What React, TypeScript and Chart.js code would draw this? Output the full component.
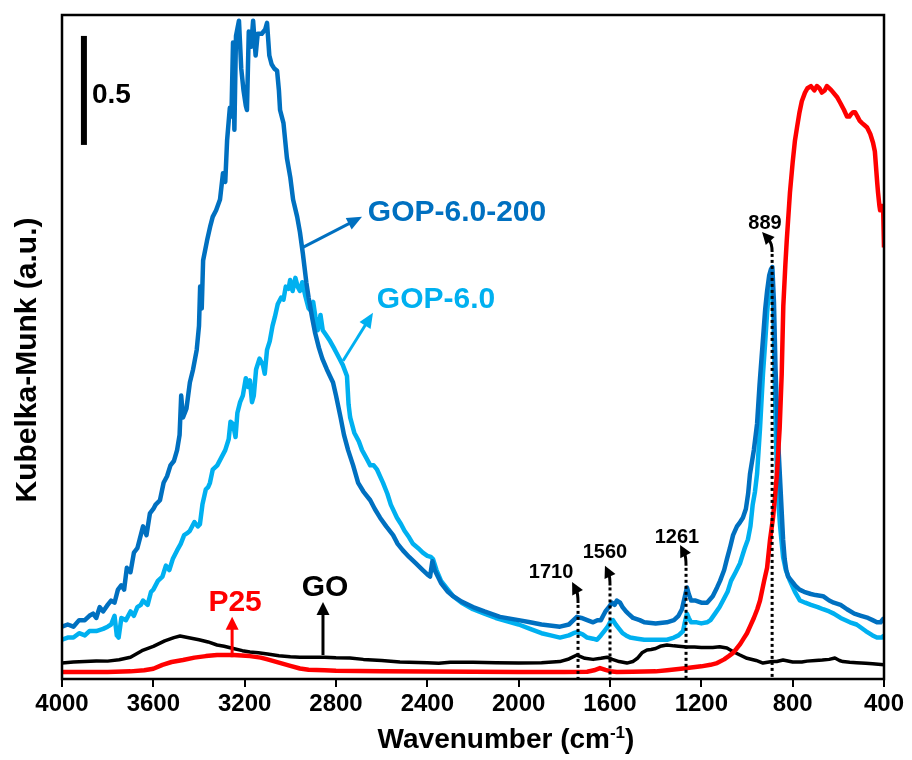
import React, { useEffect, useRef } from "react";
import { Chart, registerables } from "chart.js";
Chart.register(...registerables);

const FONT = "'Liberation Sans', Arial, Helvetica, sans-serif";

// x axis (wavenumber, reversed)
const X_MIN = 400;
const X_MAX = 4000;
const X_STEP = 400;
// y axis (Kubelka-Munk, arbitrary units)
const Y_MIN = 0;
const Y_MAX = 3.046;

const X_TITLE = "Wavenumber (cm";
const X_TITLE_SUP = "-1";
const Y_TITLE = "Kubelka-Munk (a.u.)";

// [wavenumber, K-M value]
const GOP_200: [number, number][] = [
  [4000,0.24],[3975,0.25],[3950,0.24],[3925,0.27],[3900,0.27],[3880,0.29],[3864,0.30],[3850,0.28],[3835,0.33],[3820,0.31],
  [3800,0.34],[3785,0.36],[3770,0.35],[3755,0.41],[3740,0.43],[3728,0.41],[3716,0.51],[3700,0.49],[3685,0.58],[3670,0.60],
  [3660,0.64],[3645,0.70],[3630,0.66],[3615,0.76],[3600,0.78],[3590,0.80],[3571,0.82],[3555,0.90],[3540,0.93],[3525,0.98],
  [3510,1.00],[3496,1.05],[3485,1.12],[3478,1.30],[3470,1.20],[3455,1.24],[3440,1.36],[3426,1.42],[3410,1.51],[3400,1.62],
  [3395,1.80],[3388,1.70],[3382,1.92],[3365,2.01],[3350,2.08],[3340,2.12],[3325,2.15],[3308,2.20],[3295,2.32],[3285,2.28],
  [3277,2.47],[3265,2.62],[3258,2.58],[3251,2.92],[3245,2.52],[3238,2.95],[3225,3.02],[3215,2.80],[3205,2.70],[3195,2.63],
  [3190,2.61],[3182,2.97],[3172,2.90],[3163,3.02],[3152,2.86],[3143,2.96],[3125,2.96],[3110,2.98],[3102,3.01],[3092,2.86],
  [3082,2.82],[3070,2.80],[3058,2.79],[3050,2.70],[3045,2.61],[3030,2.55],[3015,2.39],[3000,2.30],[2988,2.20],[2970,2.12],
  [2958,2.05],[2945,1.95],[2930,1.82],[2920,1.75],[2905,1.66],[2892,1.59],[2875,1.52],[2860,1.47],[2840,1.42],[2813,1.36],
  [2800,1.30],[2780,1.20],[2765,1.12],[2747,1.05],[2725,0.98],[2703,0.90],[2680,0.86],[2650,0.82],[2630,0.78],[2607,0.74],
  [2580,0.70],[2550,0.66],[2530,0.62],[2507,0.59],[2480,0.56],[2450,0.53],[2420,0.50],[2400,0.48],[2388,0.47],[2378,0.54],
  [2368,0.50],[2340,0.44],[2310,0.40],[2287,0.38],[2250,0.355],[2200,0.33],[2150,0.31],[2082,0.285],[2000,0.27],[1950,0.26],
  [1900,0.25],[1819,0.24],[1780,0.25],[1760,0.27],[1745,0.285],[1725,0.28],[1700,0.27],[1674,0.26],[1655,0.27],[1640,0.27],
  [1630,0.29],[1620,0.31],[1605,0.33],[1591,0.35],[1580,0.34],[1570,0.36],[1556,0.35],[1545,0.33],[1530,0.31],[1520,0.30],
  [1499,0.28],[1470,0.27],[1450,0.26],[1400,0.255],[1351,0.26],[1320,0.27],[1300,0.29],[1285,0.32],[1272,0.38],[1263,0.42],
  [1255,0.39],[1245,0.36],[1225,0.36],[1200,0.35],[1175,0.35],[1150,0.38],[1131,0.42],[1118,0.45],[1100,0.50],[1088,0.55],
  [1075,0.60],[1061,0.66],[1044,0.70],[1030,0.72],[1018,0.74],[1005,0.78],[995,0.85],[987,0.94],[970,1.05],[956,1.17],
  [945,1.35],[930,1.56],[920,1.70],[912,1.78],[903,1.85],[895,1.88],[889,1.89],[882,1.73],[875,1.42],[864,1.10],
  [852,0.85],[842,0.64],[835,0.55],[828,0.50],[820,0.47],[805,0.45],[790,0.43],[770,0.41],[750,0.40],[720,0.39],
  [700,0.385],[667,0.38],[640,0.36],[620,0.35],[590,0.34],[562,0.32],[530,0.30],[500,0.29],[470,0.28],[450,0.27],
  [431,0.26],[415,0.26],[408,0.27],[400,0.28],
];

const GOP_60: [number, number][] = [
  [4000,0.18],[3975,0.19],[3950,0.19],[3925,0.21],[3900,0.20],[3880,0.22],[3850,0.22],[3820,0.23],[3800,0.24],[3785,0.25],
  [3770,0.29],[3760,0.20],[3752,0.19],[3740,0.28],[3720,0.27],[3700,0.31],[3685,0.29],[3670,0.33],[3655,0.34],[3645,0.36],
  [3625,0.34],[3610,0.40],[3600,0.41],[3580,0.45],[3560,0.47],[3545,0.52],[3530,0.50],[3515,0.55],[3496,0.59],[3480,0.62],
  [3465,0.66],[3450,0.67],[3440,0.68],[3420,0.72],[3405,0.70],[3396,0.71],[3385,0.80],[3370,0.87],[3360,0.88],[3352,0.90],
  [3340,0.96],[3320,0.98],[3300,1.02],[3285,1.05],[3270,1.10],[3262,1.18],[3251,1.17],[3240,1.11],[3232,1.22],[3220,1.27],
  [3208,1.30],[3195,1.38],[3185,1.34],[3177,1.37],[3168,1.27],[3160,1.30],[3150,1.42],[3135,1.47],[3120,1.44],[3112,1.40],
  [3102,1.51],[3090,1.55],[3078,1.62],[3068,1.66],[3055,1.72],[3040,1.75],[3030,1.74],[3020,1.80],[3008,1.79],[3001,1.83],
  [2990,1.78],[2978,1.84],[2968,1.80],[2958,1.78],[2948,1.82],[2935,1.76],[2920,1.70],[2910,1.69],[2900,1.73],[2890,1.66],
  [2880,1.60],[2868,1.67],[2858,1.60],[2845,1.58],[2826,1.55],[2810,1.52],[2800,1.50],[2785,1.47],[2770,1.44],[2752,1.39],
  [2745,1.26],[2738,1.20],[2720,1.13],[2700,1.09],[2686,1.05],[2665,1.01],[2650,0.98],[2635,0.98],[2620,0.96],[2594,0.90],
  [2575,0.85],[2560,0.80],[2533,0.74],[2515,0.71],[2500,0.68],[2480,0.65],[2463,0.62],[2440,0.60],[2420,0.58],[2400,0.565],
  [2385,0.56],[2375,0.55],[2360,0.50],[2340,0.45],[2310,0.41],[2287,0.38],[2250,0.35],[2200,0.32],[2150,0.30],[2100,0.28],
  [2050,0.265],[2000,0.25],[1950,0.23],[1900,0.21],[1860,0.20],[1819,0.19],[1780,0.20],[1760,0.21],[1745,0.215],[1720,0.205],
  [1700,0.19],[1675,0.185],[1657,0.18],[1640,0.20],[1625,0.22],[1610,0.24],[1600,0.26],[1587,0.27],[1575,0.25],[1560,0.23],
  [1545,0.21],[1530,0.20],[1512,0.19],[1480,0.185],[1450,0.18],[1400,0.18],[1350,0.18],[1320,0.19],[1300,0.20],[1280,0.22],
  [1272,0.26],[1263,0.30],[1255,0.28],[1245,0.26],[1220,0.26],[1200,0.255],[1175,0.26],[1160,0.27],[1140,0.30],[1120,0.33],
  [1105,0.36],[1085,0.40],[1070,0.45],[1050,0.49],[1031,0.53],[1010,0.60],[996,0.64],[985,0.70],[975,0.80],[965,0.86],
  [956,0.94],[943,1.15],[930,1.40],[920,1.55],[912,1.68],[905,1.77],[897,1.82],[891,1.80],[885,1.70],[880,1.45],
  [875,1.20],[869,0.94],[862,0.80],[855,0.70],[842,0.56],[830,0.50],[812,0.45],[790,0.40],[768,0.36],[745,0.35],
  [720,0.34],[690,0.33],[667,0.32],[640,0.31],[620,0.30],[590,0.28],[549,0.26],[520,0.25],[480,0.22],[450,0.20],
  [431,0.19],[410,0.19],[400,0.20],
];

const GO: [number, number][] = [
  [4000,0.073],[3950,0.078],[3900,0.08],[3850,0.083],[3800,0.082],[3750,0.088],[3700,0.10],[3650,0.13],[3600,0.15],[3550,0.175],
  [3510,0.19],[3483,0.197],[3450,0.19],[3400,0.18],[3360,0.17],[3321,0.156],[3290,0.15],[3250,0.14],[3210,0.13],[3177,0.124],
  [3140,0.12],[3100,0.115],[3050,0.107],[3000,0.102],[2958,0.10],[2900,0.10],[2850,0.10],[2800,0.097],[2739,0.096],[2680,0.09],
  [2600,0.085],[2520,0.078],[2400,0.074],[2350,0.072],[2300,0.077],[2200,0.077],[2100,0.075],[2000,0.073],[1900,0.075],[1820,0.08],
  [1780,0.092],[1745,0.11],[1710,0.095],[1674,0.09],[1640,0.095],[1613,0.10],[1590,0.09],[1560,0.08],[1526,0.073],[1500,0.08],
  [1480,0.095],[1460,0.12],[1438,0.133],[1420,0.135],[1400,0.14],[1380,0.15],[1351,0.156],[1320,0.152],[1300,0.15],[1263,0.147],
  [1230,0.147],[1200,0.145],[1150,0.145],[1120,0.148],[1088,0.142],[1060,0.125],[1031,0.11],[1000,0.095],[960,0.085],[930,0.073],
  [890,0.08],[870,0.08],[842,0.087],[800,0.078],[760,0.078],[737,0.082],[700,0.085],[670,0.087],[640,0.09],[615,0.096],
  [595,0.085],[580,0.08],[550,0.077],[520,0.075],[480,0.072],[450,0.07],[400,0.065],
];

const P25: [number, number][] = [
  [4000,0.032],[3900,0.032],[3800,0.032],[3700,0.035],[3640,0.04],[3600,0.047],[3560,0.065],[3520,0.078],[3470,0.087],[3420,0.098],
  [3370,0.105],[3321,0.11],[3250,0.11],[3177,0.105],[3130,0.098],[3100,0.09],[3050,0.075],[3000,0.06],[2958,0.048],[2920,0.042],
  [2850,0.04],[2800,0.038],[2600,0.035],[2400,0.034],[2200,0.033],[2000,0.032],[1800,0.032],[1700,0.033],[1670,0.04],[1644,0.05],
  [1620,0.042],[1600,0.036],[1570,0.032],[1500,0.033],[1400,0.035],[1350,0.04],[1280,0.048],[1200,0.058],[1160,0.065],[1131,0.073],
  [1100,0.09],[1080,0.105],[1061,0.12],[1045,0.14],[1030,0.16],[1015,0.185],[1000,0.21],[985,0.245],[970,0.28],[955,0.32],
  [943,0.36],[925,0.45],[912,0.51],[899,0.64],[886,0.74],[877,0.84],[869,0.94],[857,1.15],[848,1.40],[841,1.71],
  [832,1.90],[826,2.01],[812,2.23],[800,2.37],[790,2.47],[781,2.53],[770,2.60],[760,2.65],[746,2.69],[735,2.71],
  [720,2.72],[705,2.70],[694,2.72],[683,2.71],[672,2.69],[660,2.70],[650,2.72],[640,2.71],[630,2.70],[606,2.67],
  [590,2.64],[575,2.61],[562,2.58],[552,2.58],[545,2.59],[535,2.60],[527,2.60],[516,2.58],[506,2.56],[496,2.55],
  [485,2.54],[474,2.53],[460,2.50],[448,2.46],[440,2.42],[435,2.35],[430,2.28],[426,2.23],[420,2.17],[417,2.15],
  [414,2.17],[404,2.17],[401,2.17],[400,1.98],
];

const SERIES_NAMES = ["P25", "GOP-6.0-200", "GOP-6.0", "GO"];
const SERIES_COLORS = ["#FF0000", "#0070C0", "#00B0F0", "#000000"];
const SERIES_WIDTHS = [4.5, 4.5, 4.5, 3.5];
const SERIES_DATA = [P25, GOP_200, GOP_60, GO];

// scale bar (in data units)
const SCALE_BAR_WN = 3904;
const SCALE_BAR_FROM = 2.45;
const SCALE_BAR_TO = 2.95;
const SCALE_BAR_LABEL = "0.5";

// curve labels: text, color, text position (wn, value), arrow from (wn,value) to (wn,value)
const CURVE_LABEL_TEXT = ["GOP-6.0-200", "GOP-6.0", "P25", "GO"];
const CURVE_LABEL_COLOR = ["#0070C0", "#00B0F0", "#FF0000", "#000000"];
const CURVE_LABEL_POS: [number, number][] = [[2270, 2.14], [2362, 1.74], [3242, 0.35], [2848, 0.42]];
const CURVE_ARROW_FROM: [number, number][] = [[2945, 1.98], [2769, 1.46], [3255, 0.10], [2857, 0.11]];
const CURVE_ARROW_TO: [number, number][] = [[2686, 2.12], [2638, 1.68], [3255, 0.285], [2857, 0.353]];

// peak markers
const PEAK_LABELS = ["1710", "1560", "1261", "889"];
const PEAK_LINE_WN = [1740, 1600, 1267, 890];
const PEAK_LINE_TOP = [0.34, 0.42, 0.51, 1.95];
const PEAK_HEAD: [number, number][] = [[1766, 0.445], [1622, 0.52], [1293, 0.615], [934, 2.05]];
const PEAK_TEXT: [number, number][] = [[1858, 0.49], [1622, 0.58], [1307, 0.65], [921, 2.09]];

function drawHead(ctx: CanvasRenderingContext2D, tx: number, ty: number, fx: number, fy: number, len: number, w: number, color: string) {
  const ang = Math.atan2(ty - fy, tx - fx);
  ctx.save();
  ctx.translate(tx, ty);
  ctx.rotate(ang);
  ctx.beginPath();
  ctx.moveTo(0, 0);
  ctx.lineTo(-len, w / 2);
  ctx.lineTo(-len, -w / 2);
  ctx.closePath();
  ctx.fillStyle = color;
  ctx.fill();
  ctx.restore();
}

function straightArrow(ctx: CanvasRenderingContext2D, x1: number, y1: number, x2: number, y2: number, color: string, lw: number, len: number, w: number) {
  const d = Math.hypot(x2 - x1, y2 - y1);
  const ux = (x2 - x1) / d, uy = (y2 - y1) / d;
  ctx.beginPath();
  ctx.moveTo(x1, y1);
  ctx.lineTo(x2 - ux * len * 0.8, y2 - uy * len * 0.8);
  ctx.strokeStyle = color;
  ctx.lineWidth = lw;
  ctx.stroke();
  drawHead(ctx, x2, y2, x1, y1, len, w, color);
}

const annotPlugin = {
  id: "annot",
  afterDatasetsDraw(chart: any) {
    const { ctx, chartArea: a, scales } = chart;
    const X = (w: number) => scales.x.getPixelForValue(w);
    const Y = (v: number) => scales.y.getPixelForValue(v);
    ctx.save();

    // peak dotted lines and curved arrows
    ctx.setLineDash([3, 3]);
    ctx.strokeStyle = "#000";
    ctx.lineWidth = 3;
    PEAK_LINE_WN.forEach((wn, i) => {
      ctx.beginPath();
      ctx.moveTo(X(wn), Y(PEAK_LINE_TOP[i]));
      ctx.lineTo(X(wn), a.bottom);
      ctx.stroke();
    });
    ctx.setLineDash([]);
    PEAK_LABELS.forEach((lab, i) => {
      const sx = X(PEAK_LINE_WN[i]), sy = Y(PEAK_LINE_TOP[i]);
      const hx = X(PEAK_HEAD[i][0]), hy = Y(PEAK_HEAD[i][1]);
      const cx = sx, cy = (sy + hy) / 2;
      const d = Math.hypot(hx - cx, hy - cy);
      const ex = hx - (hx - cx) / d * 9, ey = hy - (hy - cy) / d * 9;
      ctx.beginPath();
      ctx.moveTo(sx, sy - 2);
      ctx.quadraticCurveTo(cx, cy, ex, ey);
      ctx.strokeStyle = "#000";
      ctx.lineWidth = 3;
      ctx.stroke();
      drawHead(ctx, hx, hy, cx, cy, 12, 12, "#000");
      ctx.font = `bold 20px ${FONT}`;
      ctx.fillStyle = "#000";
      ctx.textAlign = "center";
      ctx.textBaseline = "middle";
      ctx.fillText(lab, X(PEAK_TEXT[i][0]), Y(PEAK_TEXT[i][1]));
    });

    // curve labels and arrows
    CURVE_LABEL_TEXT.forEach((t, i) => {
      const col = CURVE_LABEL_COLOR[i];
      const vertical = CURVE_ARROW_FROM[i][0] === CURVE_ARROW_TO[i][0];
      straightArrow(ctx, X(CURVE_ARROW_FROM[i][0]), Y(CURVE_ARROW_FROM[i][1]), X(CURVE_ARROW_TO[i][0]), Y(CURVE_ARROW_TO[i][1]), col, 3, vertical ? 13 : 15, vertical ? 13 : 13);
      ctx.font = `bold 30px ${FONT}`;
      ctx.fillStyle = col;
      ctx.textAlign = "center";
      ctx.textBaseline = "middle";
      ctx.fillText(t, X(CURVE_LABEL_POS[i][0]), Y(CURVE_LABEL_POS[i][1]));
    });

    // scale bar
    const bx = X(SCALE_BAR_WN);
    ctx.beginPath();
    ctx.moveTo(bx, Y(SCALE_BAR_FROM));
    ctx.lineTo(bx, Y(SCALE_BAR_TO));
    ctx.strokeStyle = "#000";
    ctx.lineWidth = 6;
    ctx.stroke();
    ctx.font = `bold 28px ${FONT}`;
    ctx.fillStyle = "#000";
    ctx.textAlign = "left";
    ctx.textBaseline = "middle";
    ctx.fillText(SCALE_BAR_LABEL, bx + 8, Y((SCALE_BAR_FROM + SCALE_BAR_TO) / 2) + 5);

    // frame
    ctx.strokeStyle = "#000";
    ctx.lineWidth = 2.5;
    ctx.strokeRect(a.left, a.top, a.right - a.left, a.bottom - a.top);

    // x title with superscript
    ctx.fillStyle = "#000";
    ctx.textBaseline = "alphabetic";
    ctx.textAlign = "left";
    const mainFont = `bold 28px ${FONT}`;
    const supFont = `bold 17px ${FONT}`;
    ctx.font = mainFont;
    const w1 = ctx.measureText(X_TITLE).width;
    const w3 = ctx.measureText(")").width;
    ctx.font = supFont;
    const w2 = ctx.measureText(X_TITLE_SUP).width;
    const total = w1 + w2 + w3;
    const cxTitle = (a.left + a.right) / 2 + 33;
    const base = a.bottom + 69;
    let tx = cxTitle - total / 2;
    ctx.font = mainFont;
    ctx.fillText(X_TITLE, tx, base);
    tx += w1;
    ctx.font = supFont;
    ctx.fillText(X_TITLE_SUP, tx, base - 10);
    tx += w2;
    ctx.font = mainFont;
    ctx.fillText(")", tx, base);

    // y title
    ctx.save();
    ctx.translate(28, (a.top + a.bottom) / 2 + 13);
    ctx.rotate(-Math.PI / 2);
    ctx.font = `bold 30px ${FONT}`;
    ctx.textAlign = "center";
    ctx.textBaseline = "middle";
    ctx.fillText(Y_TITLE, 0, 0);
    ctx.restore();

    ctx.restore();
  },
};

export default function App() {
  const ref = useRef<HTMLCanvasElement>(null);
  useEffect(() => {
    const chart = new Chart(ref.current as HTMLCanvasElement, {
      type: "line",
      data: {
        datasets: SERIES_DATA.map((d, i) => ({
          label: SERIES_NAMES[i],
          data: d.map(([x, y]) => ({ x, y })),
          borderColor: SERIES_COLORS[i],
          borderWidth: SERIES_WIDTHS[i],
          pointRadius: 0,
          fill: false,
          tension: 0,
          order: i,
          borderJoinStyle: "round" as const,
        })),
      },
      options: {
        responsive: false,
        animation: false,
        devicePixelRatio: 1,
        layout: { padding: { top: 15, right: 28, left: 0, bottom: 0 } },
        plugins: { legend: { display: false }, tooltip: { enabled: false } },
        scales: {
          x: {
            type: "linear",
            reverse: true,
            min: X_MIN,
            max: X_MAX,
            ticks: {
              stepSize: X_STEP,
              autoSkip: false,
              maxRotation: 0,
              color: "#000",
              padding: 3,
              font: { family: FONT, size: 24, weight: "bold" },
              callback: (v: any) => String(v),
            },
            grid: { display: true, drawOnChartArea: false, drawTicks: true, tickLength: 8, color: "#000", lineWidth: 2 },
            border: { display: false },
            afterFit: (s: any) => { s.height = 81; },
          },
          y: {
            type: "linear",
            min: Y_MIN,
            max: Y_MAX,
            ticks: { display: false },
            grid: { display: false, drawTicks: false },
            border: { display: false },
            afterFit: (s: any) => { s.width = 62; },
          },
        },
      } as any,
      plugins: [annotPlugin],
    });
    return () => chart.destroy();
  }, []);
  return (
    <div style={{ position: "fixed", left: 0, top: 0, width: 912, height: 760, background: "#fff" }}>
      <canvas ref={ref} width={912} height={760} style={{ display: "block" }} />
    </div>
  );
}
